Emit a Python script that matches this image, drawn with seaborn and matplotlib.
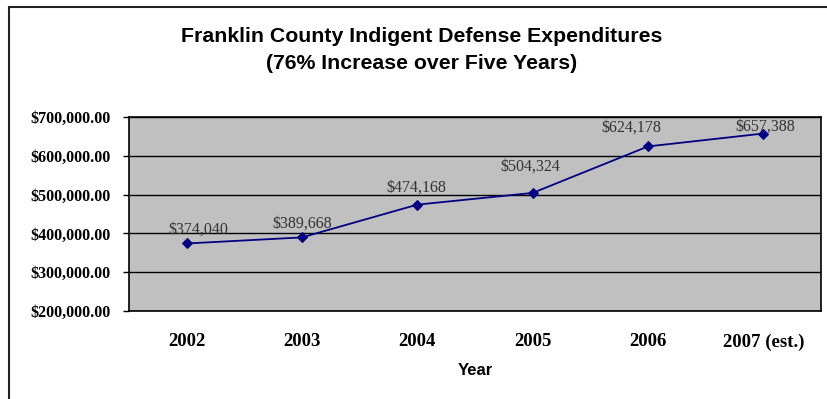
import numpy as np
import pandas as pd
import matplotlib
matplotlib.use("Agg")
import matplotlib.pyplot as plt
import matplotlib.patches as patches
from matplotlib.ticker import FuncFormatter
import seaborn as sns

# data
years = ["2002", "2003", "2004", "2005", "2006", "2007 (est.)"]
expenditures = [374040, 389668, 474168, 504324, 624178, 657388]
point_labels = ["$374,040", "$389,668", "$474,168", "$504,324", "$624,178", "$657,388"]

# label placement in pixels (dx, dy) relative to each point, as in the original
label_offsets = [(12, 14), (0, 14), (-1, 17), (-2, 26), (-17, 19), (2, 7)]

df = pd.DataFrame({"pos": np.arange(len(years)), "value": expenditures})

sns.set_style("white")
plt.rcParams["font.family"] = ["Liberation Serif", "DejaVu Serif"]
plt.rcParams["text.color"] = "black"
plt.rcParams["xtick.color"] = "black"
plt.rcParams["ytick.color"] = "black"

fig = plt.figure(figsize=(8.27, 3.99), dpi=100)
ax = fig.add_axes([129 / 827, 88 / 399, 692 / 827, 194 / 399])
ax.set_facecolor("#C0C0C0")

sns.lineplot(data=df, x="pos", y="value", ax=ax, color="#000080",
             linewidth=1.3, marker="D", markersize=5.5,
             markeredgecolor="#000080", zorder=3)

for i, (v, txt) in enumerate(zip(expenditures, point_labels)):
    dx, dy = label_offsets[i]
    ax.annotate(txt, (i, v), xytext=(dx, dy), textcoords="offset pixels",
                ha="center", va="center", fontsize=11.5, color="#333333",
                zorder=4)

ax.set_xlim(-0.5, len(years) - 0.5)
ax.set_ylim(200000, 700000)
ax.set_yticks(np.arange(200000, 700001, 100000))
ax.yaxis.set_major_formatter(FuncFormatter(lambda v, p: f"${v:,.2f}"))
ax.grid(axis="y", color="black", linewidth=1.0)
ax.set_axisbelow(True)

ax.set_xticks(np.arange(len(years)))
ax.set_xticklabels(years)
ax.set_xticks(np.arange(-0.5, len(years), 1.0), minor=True)
ax.tick_params(axis="x", which="major", length=0, pad=16)
ax.tick_params(axis="x", which="minor", length=4, width=1, direction="out", color="black")
ax.tick_params(axis="y", length=4, width=1, direction="out", color="black", pad=9, left=True)

for lab in ax.get_xticklabels():
    lab.set_fontweight("bold")
    lab.set_fontsize(13.5)
for lab in ax.get_yticklabels():
    lab.set_fontweight("bold")
    lab.set_fontsize(11.5)

for s in ax.spines.values():
    s.set_color("black")
    s.set_linewidth(1.2)

ax.set_ylabel("")
ax.set_xlabel("Year", family=["Liberation Sans", "DejaVu Sans"], fontweight="bold",
              fontsize=12, labelpad=9, color="black")

fig.text(422 / 827, 1 - 50 / 399,
         "Franklin County Indigent Defense Expenditures\n(76% Increase over Five Years)",
         ha="center", va="center", family=["Liberation Sans", "DejaVu Sans"],
         fontweight="bold", fontsize=15.3, linespacing=1.5, color="black")

# outer chart frame (cut off at the right and bottom like the original)
frame = patches.Rectangle((9 / 827, -0.2), 2.0, 1.2 - 7 / 399,
                          transform=fig.transFigure, fill=False,
                          edgecolor="#222222", linewidth=1.5, clip_on=False)
fig.add_artist(frame)

fig.savefig("out.png", dpi=100)
